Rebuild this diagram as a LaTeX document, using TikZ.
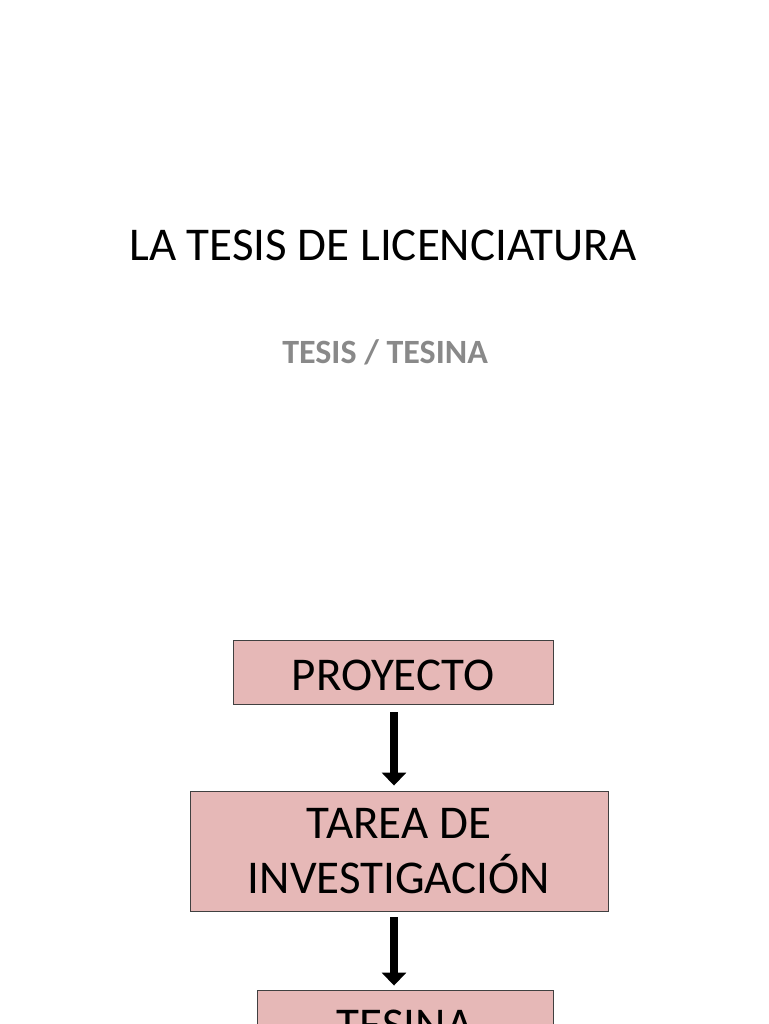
\documentclass[tikz,border=0pt]{standalone}
\usepackage{fontspec}
\setmainfont{Carlito}
\usetikzlibrary{arrows.meta}
\definecolor{boxfill}{HTML}{E6B8B7}
\definecolor{boxline}{HTML}{404040}
\definecolor{subgray}{HTML}{898989}
\tikzset{
  stepbox/.style={draw=boxline, line width=0.9pt, fill=boxfill, inner sep=0pt,
    font=\fontsize{47}{55}\selectfont, align=center},
  bigarrow/.style={line width=8pt, -{Triangle[width=24pt,length=13pt]}}
}
\begin{document}
\begin{tikzpicture}[x=1pt,y=-1pt]
\useasboundingbox (0,0) rectangle (768,1024);
\fill[white] (0,0) rectangle (768,1024);
\node[anchor=base, font=\fontsize{47}{56}\selectfont] (title) at (383,260) {LA TESIS DE LICENCIATURA};
\node[anchor=base, font=\fontsize{34}{40}\selectfont\bfseries, text=subgray] (sub) at (385,363) {TESIS / TESINA};
\node[stepbox, minimum width=320pt, minimum height=64pt, text height=36pt, text depth=0pt] (proyecto) at (393,672) {PROYECTO};
\node[stepbox, minimum width=418pt, minimum height=120pt] (tarea) at (399,851) {TAREA DE\\INVESTIGACIÓN};
\node[stepbox, minimum width=296pt, minimum height=64pt, text height=36pt, text depth=0pt] (tesina) at (405,1022) {TESINA};
\coordinate (ax) at (394,0);
\draw[bigarrow, shorten <=8pt, shorten >=5pt] (proyecto.south -| ax) -- (tarea.north -| ax);
\draw[bigarrow, shorten <=6pt, shorten >=4pt] (tarea.south -| ax) -- (tesina.north -| ax);
\end{tikzpicture}
\end{document}
